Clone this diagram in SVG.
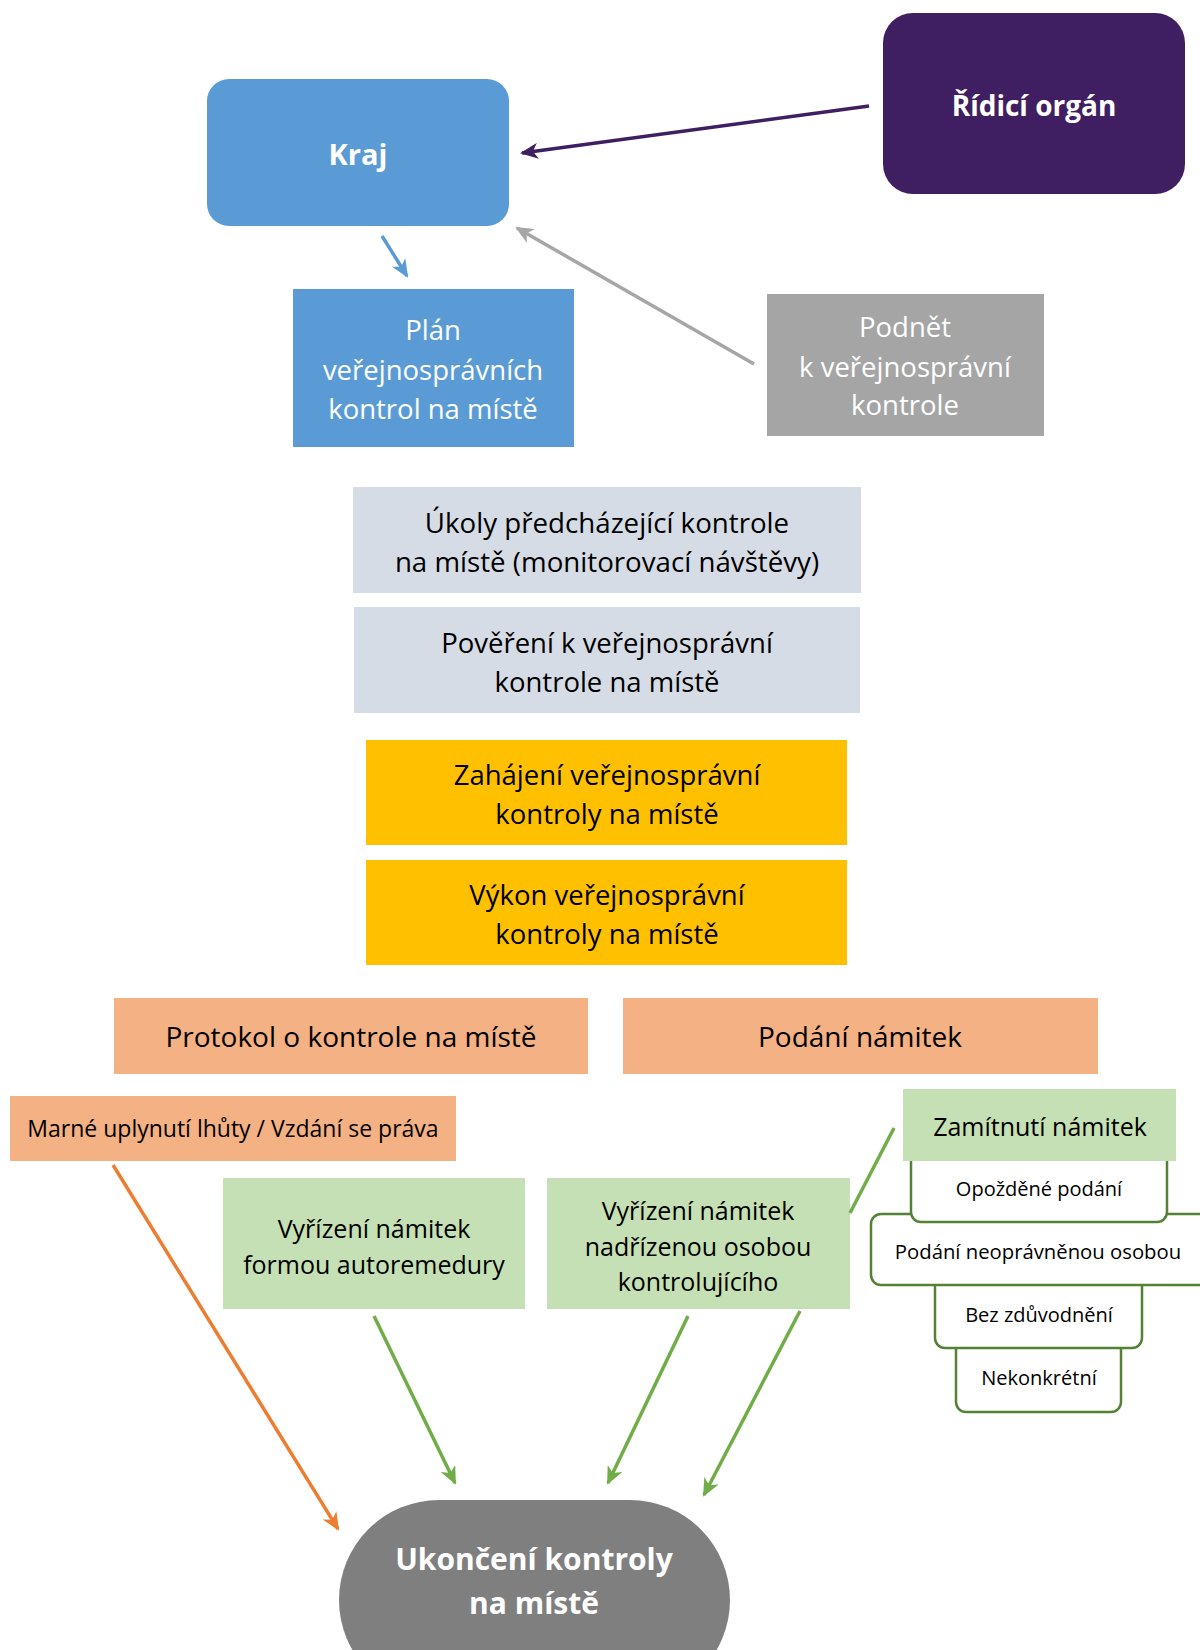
<svg xmlns="http://www.w3.org/2000/svg" width="1200" height="1650" viewBox="0 0 1200 1650">
<defs>
<style>
.t{font-family:"Open Sans","Noto Sans","DejaVu Sans",sans-serif;text-anchor:middle;}
.w{fill:#ffffff;}
.k{fill:#000000;}
.b{font-weight:bold;}
.ol{fill:#ffffff;stroke:#548235;stroke-width:2.5;}
.ln{fill:none;stroke-width:3.5;}
</style>
<marker id="mP" markerUnits="userSpaceOnUse" markerWidth="18" markerHeight="16" refX="16" refY="8" orient="auto"><path d="M0,0 L18,8 L0,16 L5,8 Z" fill="#3F1F62"/></marker>
<marker id="mB" markerUnits="userSpaceOnUse" markerWidth="18" markerHeight="16" refX="16" refY="8" orient="auto"><path d="M0,0 L18,8 L0,16 L5,8 Z" fill="#5B9BD5"/></marker>
<marker id="mG" markerUnits="userSpaceOnUse" markerWidth="18" markerHeight="16" refX="16" refY="8" orient="auto"><path d="M0,0 L18,8 L0,16 L5,8 Z" fill="#A6A6A6"/></marker>
<marker id="mGr" markerUnits="userSpaceOnUse" markerWidth="18" markerHeight="16" refX="16" refY="8" orient="auto"><path d="M0,0 L18,8 L0,16 L5,8 Z" fill="#70AD47"/></marker>
<marker id="mO" markerUnits="userSpaceOnUse" markerWidth="18" markerHeight="16" refX="16" refY="8" orient="auto"><path d="M0,0 L18,8 L0,16 L5,8 Z" fill="#ED7D31"/></marker>
</defs>
<rect width="1200" height="1650" fill="#ffffff"/>

<g id="kraj"><rect x="207" y="79" width="302" height="147" rx="22" fill="#5B9BD5"/><text class="t w b" x="358" y="165" font-size="29">Kraj</text></g>
<g id="ridici-organ"><rect x="883" y="13" width="302" height="181" rx="30" fill="#3F1F62"/><text class="t w b" x="1034" y="116" font-size="28">Řídicí orgán</text></g>
<g id="plan"><rect x="293" y="289" width="281" height="158" fill="#5B9BD5"/><text class="t w" font-size="27.5"><tspan x="433" y="340">Plán</tspan><tspan x="433" y="380">veřejnosprávních</tspan><tspan x="433" y="419">kontrol na místě</tspan></text></g>
<g id="podnet"><rect x="767" y="294" width="277" height="142" fill="#A5A5A5"/><text class="t w" font-size="27.5"><tspan x="905" y="337">Podnět</tspan><tspan x="905" y="377">k veřejnosprávní</tspan><tspan x="905" y="415">kontrole</tspan></text></g>
<g id="ukoly"><rect x="353" y="487" width="508" height="106" fill="#D6DCE5"/><text class="t k" font-size="27.7"><tspan x="607" y="533">Úkoly předcházející kontrole</tspan><tspan x="607" y="572">na místě (monitorovací návštěvy)</tspan></text></g>
<g id="povereni"><rect x="354" y="607" width="506" height="106" fill="#D6DCE5"/><text class="t k" font-size="27.5"><tspan x="607" y="653">Pověření k veřejnosprávní</tspan><tspan x="607" y="692">kontrole na místě</tspan></text></g>
<g id="zahajeni"><rect x="366" y="740" width="481" height="105" fill="#FFC000"/><text class="t k" font-size="27.5"><tspan x="607" y="785">Zahájení veřejnosprávní</tspan><tspan x="607" y="824">kontroly na místě</tspan></text></g>
<g id="vykon"><rect x="366" y="860" width="481" height="105" fill="#FFC000"/><text class="t k" font-size="27.5"><tspan x="607" y="905">Výkon veřejnosprávní</tspan><tspan x="607" y="944">kontroly na místě</tspan></text></g>
<g id="protokol"><rect x="114" y="998" width="474" height="76" fill="#F4B183"/><text class="t k" x="351" y="1047" font-size="28">Protokol o kontrole na místě</text></g>
<g id="podani-namitek"><rect x="623" y="998" width="475" height="76" fill="#F4B183"/><text class="t k" x="860" y="1047" font-size="28">Podání námitek</text></g>
<g id="marne"><rect x="10" y="1096" width="446" height="65" fill="#F4B183"/><text class="t k" x="233" y="1137" font-size="23">Marné uplynutí lhůty / Vzdání se práva</text></g>
<g id="autoremedura"><rect x="223" y="1178" width="302" height="131" fill="#C5E0B4"/><text class="t k" font-size="25"><tspan x="374" y="1238">Vyřízení námitek</tspan><tspan x="374" y="1274">formou autoremedury</tspan></text></g>
<g id="nadrizena"><rect x="547" y="1178" width="303" height="131" fill="#C5E0B4"/><text class="t k" font-size="25"><tspan x="698" y="1220">Vyřízení námitek</tspan><tspan x="698" y="1256">nadřízenou osobou</tspan><tspan x="698" y="1291">kontrolujícího</tspan></text></g>

<g id="nekonkretni"><rect class="ol" x="956" y="1340" width="165" height="72" rx="10"/><text class="t k" x="1039" y="1385" font-size="20">Nekonkrétní</text></g>
<g id="bez-zduvodneni"><rect class="ol" x="935" y="1275" width="207" height="73" rx="10"/><text class="t k" x="1039" y="1322" font-size="20">Bez zdůvodnění</text></g>
<g id="podani-neopravnenou"><rect class="ol" x="871" y="1214" width="345" height="71" rx="10"/><text class="t k" x="1038" y="1259" font-size="20.3">Podání neoprávněnou osobou</text></g>
<g id="opozdene"><rect class="ol" x="911" y="1140" width="256" height="82" rx="10"/><text class="t k" x="1039" y="1196" font-size="20">Opožděné podání</text></g>
<g id="zamitnuti"><rect x="903" y="1089" width="273" height="72" fill="#C5E0B4"/><text class="t k" x="1040" y="1136" font-size="25">Zamítnutí námitek</text></g>

<g id="ukonceni"><rect x="339" y="1500" width="391" height="200" rx="100" fill="#7F7F7F"/><text class="t w b" font-size="30"><tspan x="534" y="1570">Ukončení kontroly</tspan><tspan x="534" y="1614">na místě</tspan></text></g>

<g id="connectors">
<line class="ln" x1="869" y1="106" x2="522" y2="153" stroke="#3F1F62" marker-end="url(#mP)"/>
<line class="ln" x1="382" y1="236" x2="407" y2="276" stroke="#5B9BD5" stroke-width="3" marker-end="url(#mB)"/>
<line class="ln" x1="754" y1="364" x2="517" y2="228" stroke="#A6A6A6" stroke-width="3" marker-end="url(#mG)"/>
<line class="ln" x1="894" y1="1128" x2="850" y2="1213" stroke="#70AD47"/>
<line class="ln" x1="113" y1="1165" x2="338" y2="1529" stroke="#ED7D31" stroke-width="3" marker-end="url(#mO)"/>
<line class="ln" x1="374" y1="1316" x2="455" y2="1483" stroke="#70AD47" marker-end="url(#mGr)"/>
<line class="ln" x1="688" y1="1316" x2="608" y2="1483" stroke="#70AD47" marker-end="url(#mGr)"/>
<line class="ln" x1="800" y1="1311" x2="704" y2="1495" stroke="#70AD47" marker-end="url(#mGr)"/>
</g>
</svg>
